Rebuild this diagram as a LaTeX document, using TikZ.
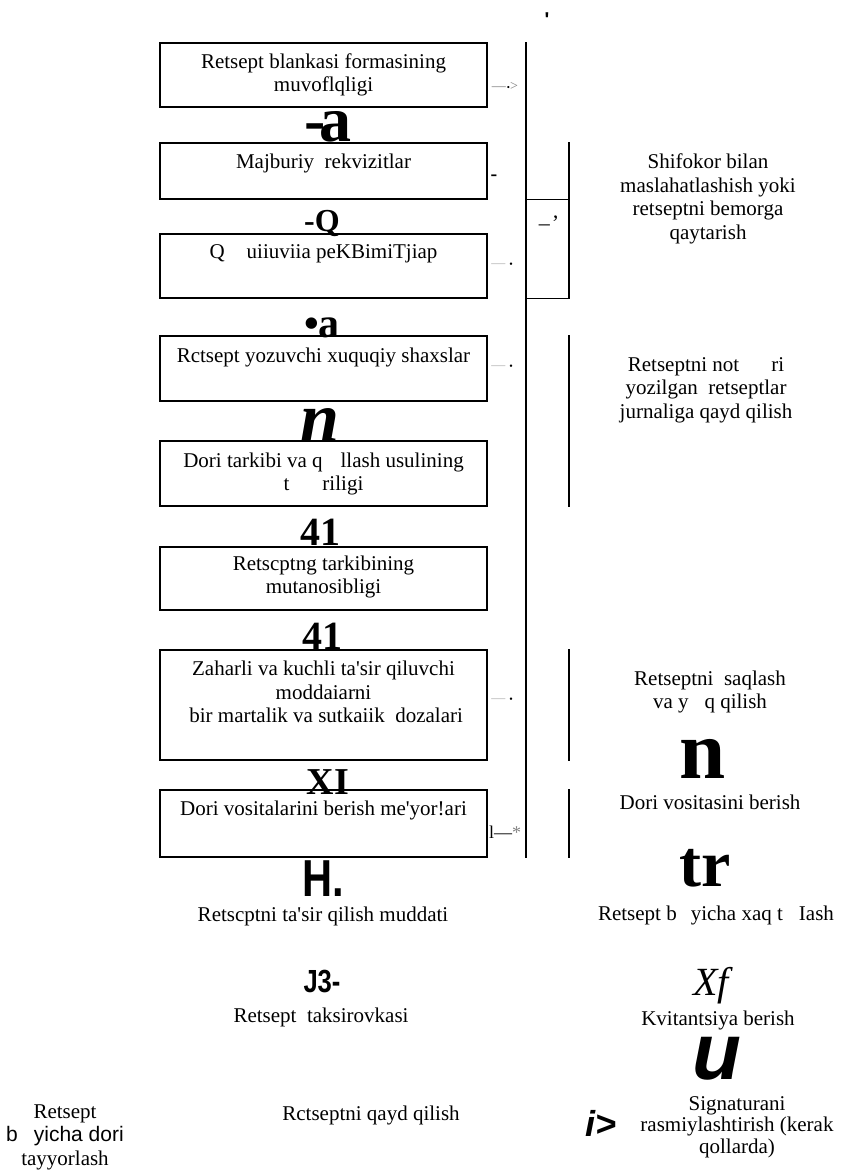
\documentclass[tikz,border=0pt]{standalone}
\usepackage{fontspec}
\usepackage{graphicx}
\setmainfont{Liberation Serif}
\newfontfamily\sansf{Liberation Sans}
\begin{document}
\begin{tikzpicture}[x=1pt,y=-1pt,
  box/.style={draw, line width=1.3pt, minimum width=327pt, inner sep=0pt},
  txt/.style={font=\fontsize{21}{23.5}\selectfont, align=center, inner sep=0pt},
  big/.style={inner sep=0pt},
  smark/.style={inner sep=0pt, font=\fontsize{14}{14}\selectfont},
  ln/.style={line width=1.3pt}]
\useasboundingbox (0,0) rectangle (847,1173);

% boxes
\node[box, minimum height=64pt]  (b1) at (323.5,75) {};
\node[box, minimum height=56pt]  (b2) at (323.5,171) {};
\node[box, minimum height=64pt]  (b3) at (323.5,266) {};
\node[box, minimum height=65pt]  (b4) at (323.5,368.5) {};
\node[box, minimum height=65pt]  (b5) at (323.5,473.5) {};
\node[box, minimum height=63pt]  (b6) at (323.5,578.5) {};
\node[box, minimum height=110pt] (b7) at (323.5,705) {};
\node[box, minimum height=67pt]  (b8) at (323.5,823.5) {};

% box texts
\node[txt] (t1) at (323.5,75) {Retsept blankasi formasining\\muvoflqligi};
\node[txt] (t2) at (323.5,163) {Majburiy\ \ rekvizitlar};
\node[txt] (t3) at (323.5,254) {Q\hspace{22pt}uiiuviia peKBimiTjiap};
\node[txt] (t4) at (323.5,357) {Rctsept yozuvchi xuquqiy shaxslar};
\node[txt] (t5) at (323.5,474) {Dori tarkibi va q\hspace{18pt}llash usulining\\t\hspace{33pt}riligi};
\node[txt] (t6) at (323.5,577) {Retscptng tarkibining\\mutanosibligi};
\node[txt] (t7) at (323.5,692) {Zaharli va kuchli ta\textquotesingle sir qiluvchi\\moddaiarni\\\ bir martalik va sutkaiik\ \ dozalari};
\node[txt] (t8) at (323.5,810) {Dori vositalarini berish me\textquotesingle yor!ari};

% vertical lines
\coordinate (mx) at (526,0);
\coordinate (rx) at (569,0);
\draw[ln] (b1.north -| mx) -- (b8.south -| mx);
\draw[ln] (b2.north -| rx) -- (b3.south -| rx);
\draw[ln] (b2.south -| mx) -- (b2.south -| rx);
\draw[ln] (b3.south -| mx) -- (b3.south -| rx);
\draw[ln] (b4.north -| rx) -- (b5.south -| rx);
\draw[ln] (b7.north -| rx) -- (b7.south -| rx);
\draw[ln] (b8.north -| rx) -- (b8.south -| rx);

% small marks
\node[inner sep=0pt, font=\fontsize{20}{20}\selectfont\sansf\bfseries] (m0) at (547,20) {\textquotesingle};
\node[smark] (m1) at (505,86) {{\color{gray}---}\kern1pt{\fontsize{9}{9}\selectfont\textbullet}{\color{gray}>}};
\node[inner sep=0pt, font=\fontsize{20}{20}\selectfont\bfseries] (m2) at (494,178) {-};
\node[smark] (m3) at (502,265) {{\color{gray!60}---}\kern4pt{\fontsize{10}{10}\selectfont\textbullet}};
\node[inner sep=0pt, font=\fontsize{22}{22}\selectfont] (m4) at (549,223) {--\kern2pt\textquoteright};
\node[smark] (m5) at (502,367) {{\color{gray!60}---}\kern4pt{\fontsize{10}{10}\selectfont\textbullet}};
\node[smark] (m6) at (502,700) {{\color{gray!60}---}\kern4pt{\fontsize{10}{10}\selectfont\textbullet}};
\node[inner sep=0pt, font=\fontsize{18}{18}\selectfont] (m7) at (505,832) {l---{\color{gray}*}};

% big glyphs (left)
\node[big, font=\fontsize{64}{64}\selectfont\bfseries] (g1) at (328,127) {-\kern-6pt a};
\node[big, font=\fontsize{32}{32}\selectfont\bfseries] (g2) at (322,223) {-Q};
\node[big, font=\fontsize{42}{42}\selectfont\bfseries] (g3) at (322,328) {\textbullet a};
\node[big, font=\fontsize{70}{70}\selectfont\bfseries\itshape] (g4) at (320,425) {n};
\node[big, font=\fontsize{40}{40}\selectfont\bfseries] (g5) at (320,532) {41};
\node[big, font=\fontsize{40}{40}\selectfont\bfseries] (g6) at (322,636) {41};
\node[big, font=\fontsize{38}{38}\selectfont\bfseries] (g7) at (328,782) {XI};
\node[big, font=\fontsize{52}{52}\selectfont\sansf\bfseries] (g8) at (323,879) {\scalebox{0.8}[1]{H.}};
\node[big, font=\fontsize{32}{32}\selectfont\sansf\bfseries] (g9) at (322,981) {\scalebox{0.8}[1]{J3-}};

% lower left texts
\node[txt] (t9) at (323,916) {Retscptni ta\textquotesingle sir qilish muddati};
\node[txt] (t10) at (321,1017) {Retsept\ \ taksirovkasi};
\node[txt] (t11) at (371,1115) {Rctseptni qayd qilish};
\node[txt] (t12) at (65,1137) {Retsept\\{\sansf b\hspace{16pt}yicha dori}\\tayyorlash};

% right column
\node[txt] (r1) at (708,199) {Shifokor bilan\\maslahatlashish yoki\\retseptni bemorga\\qaytarish};
\node[txt] (r2) at (706,390) {Retseptni not\hspace{32pt}ri\\yozilgan\ \ retseptlar\\jurnaliga qayd qilish};
\node[txt] (r3) at (710,692) {Retseptni\ \ saqlash\\va y\hspace{16pt}q qilish};
\node[big, font=\fontsize{83}{83}\selectfont\bfseries] (g10) at (703,759) {n};
\node[txt] (r4) at (710,802) {Dori vositasini berish};
\node[big, font=\fontsize{66}{66}\selectfont\bfseries] (g11) at (705,868) {tr};
\node[txt] (r5) at (716,915) {Retsept b\hspace{14pt}yicha xaq t\hspace{16pt}Iash};
\node[big, font=\fontsize{40}{40}\selectfont\itshape] (g12) at (711,986) {Xf};
\node[txt] (r6) at (718,1020) {Kvitantsiya berish};
\node[big, font=\fontsize{80}{80}\selectfont\sansf\bfseries\itshape] (g13) at (717,1059) {u};
\node[txt, font=\fontsize{21}{21.5}\selectfont] (r7) at (737,1127) {Signaturani\\rasmiylashtirish (kerak\\qollarda)};
\node[big, font=\fontsize{36}{36}\selectfont\sansf\bfseries\itshape] (g14) at (601,1123) {i>};
\end{tikzpicture}
\end{document}
